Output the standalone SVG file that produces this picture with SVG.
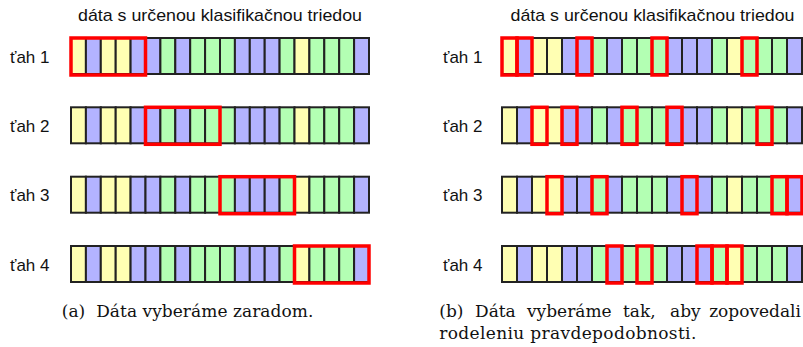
<svg xmlns="http://www.w3.org/2000/svg" xmlns:xlink="http://www.w3.org/1999/xlink" width="803" height="347" viewBox="0 0 803 347">
<style>
.y{fill:#FFFFB3}
.b{fill:#B3B3FF}
.g{fill:#B3FFB3}
.c rect{stroke:#222;stroke-width:2}
.sel{fill:none;stroke:#FF0000;stroke-width:3.5}
.lbl{font-family:"Liberation Sans",Arial,sans-serif;font-size:17px;fill:#111}
.ttl{font-family:"Liberation Sans",Arial,sans-serif;font-size:17px;fill:#111}
.cap{font-family:"DejaVu Serif","Liberation Serif",serif;font-size:17px;fill:#111}
</style>
<defs>
<g id="barL" class="c">
<rect class="y" x="71" y="0" width="14.9" height="36"/>
<rect class="b" x="85.9" y="0" width="14.9" height="36"/>
<rect class="y" x="100.8" y="0" width="14.9" height="36"/>
<rect class="y" x="115.7" y="0" width="14.9" height="36"/>
<rect class="b" x="130.6" y="0" width="14.9" height="36"/>
<rect class="b" x="145.5" y="0" width="14.9" height="36"/>
<rect class="g" x="160.4" y="0" width="14.9" height="36"/>
<rect class="b" x="175.3" y="0" width="14.9" height="36"/>
<rect class="g" x="190.2" y="0" width="14.9" height="36"/>
<rect class="g" x="205.1" y="0" width="14.9" height="36"/>
<rect class="g" x="220" y="0" width="14.9" height="36"/>
<rect class="b" x="234.9" y="0" width="14.9" height="36"/>
<rect class="b" x="249.8" y="0" width="14.9" height="36"/>
<rect class="b" x="264.7" y="0" width="14.9" height="36"/>
<rect class="g" x="279.6" y="0" width="14.9" height="36"/>
<rect class="y" x="294.5" y="0" width="14.9" height="36"/>
<rect class="g" x="309.4" y="0" width="14.9" height="36"/>
<rect class="g" x="324.3" y="0" width="14.9" height="36"/>
<rect class="g" x="339.2" y="0" width="14.9" height="36"/>
<rect class="b" x="354.1" y="0" width="14.9" height="36"/>
</g>
<g id="barR" class="c">
<rect class="y" x="502" y="0" width="15" height="36"/>
<rect class="b" x="517" y="0" width="15" height="36"/>
<rect class="y" x="532" y="0" width="15" height="36"/>
<rect class="y" x="547" y="0" width="15" height="36"/>
<rect class="b" x="562" y="0" width="15" height="36"/>
<rect class="b" x="577" y="0" width="15" height="36"/>
<rect class="g" x="592" y="0" width="15" height="36"/>
<rect class="b" x="607" y="0" width="15" height="36"/>
<rect class="g" x="622" y="0" width="15" height="36"/>
<rect class="g" x="637" y="0" width="15" height="36"/>
<rect class="g" x="652" y="0" width="15" height="36"/>
<rect class="b" x="667" y="0" width="15" height="36"/>
<rect class="b" x="682" y="0" width="15" height="36"/>
<rect class="b" x="697" y="0" width="15" height="36"/>
<rect class="g" x="712" y="0" width="15" height="36"/>
<rect class="y" x="727" y="0" width="15" height="36"/>
<rect class="g" x="742" y="0" width="15" height="36"/>
<rect class="g" x="757" y="0" width="15" height="36"/>
<rect class="g" x="772" y="0" width="15" height="36"/>
<rect class="b" x="787" y="0" width="15" height="36"/>
</g>
</defs>
<rect width="803" height="347" fill="#FFFFFF"/>

<g id="panel-a">
<text class="ttl" x="78" y="20.5" textLength="284" lengthAdjust="spacingAndGlyphs">dáta s určenou klasifikačnou triedou</text>
<g id="a-row1">
<text class="lbl" x="10" y="62.5">ťah 1</text>
<use xlink:href="#barL" transform="translate(0,38)"/>
<rect class="sel" x="71" y="38" width="74.5" height="37"/>
</g>
<g id="a-row2">
<text class="lbl" x="10" y="131.8">ťah 2</text>
<use xlink:href="#barL" transform="translate(0,107.3)"/>
<rect class="sel" x="145.5" y="107.3" width="74.5" height="37"/>
</g>
<g id="a-row3">
<text class="lbl" x="10" y="201.2">ťah 3</text>
<use xlink:href="#barL" transform="translate(0,176.7)"/>
<rect class="sel" x="220" y="176.7" width="74.5" height="37"/>
</g>
<g id="a-row4">
<text class="lbl" x="10" y="270.5">ťah 4</text>
<use xlink:href="#barL" transform="translate(0,246)"/>
<rect class="sel" x="294.5" y="246" width="74.5" height="37"/>
</g>
<text class="cap" x="61.7" y="317" textLength="251.6" lengthAdjust="spacing" xml:space="preserve">(a)  Dáta vyberáme zaradom.</text>
</g>

<g id="panel-b">
<text class="ttl" x="510.5" y="20.5" textLength="284" lengthAdjust="spacingAndGlyphs">dáta s určenou klasifikačnou triedou</text>
<g id="b-row1">
<text class="lbl" x="443" y="62.5">ťah 1</text>
<use xlink:href="#barR" transform="translate(0,38)"/>
<rect class="sel" x="502" y="38" width="15" height="37"/>
<rect class="sel" x="517" y="38" width="15" height="37"/>
<rect class="sel" x="577" y="38" width="15" height="37"/>
<rect class="sel" x="652" y="38" width="15" height="37"/>
<rect class="sel" x="742" y="38" width="15" height="37"/>
</g>
<g id="b-row2">
<text class="lbl" x="443" y="131.8">ťah 2</text>
<use xlink:href="#barR" transform="translate(0,107.3)"/>
<rect class="sel" x="532" y="107.3" width="15" height="37"/>
<rect class="sel" x="562" y="107.3" width="15" height="37"/>
<rect class="sel" x="622" y="107.3" width="15" height="37"/>
<rect class="sel" x="667" y="107.3" width="15" height="37"/>
<rect class="sel" x="757" y="107.3" width="15" height="37"/>
</g>
<g id="b-row3">
<text class="lbl" x="443" y="201.2">ťah 3</text>
<use xlink:href="#barR" transform="translate(0,176.7)"/>
<rect class="sel" x="547" y="176.7" width="15" height="37"/>
<rect class="sel" x="592" y="176.7" width="15" height="37"/>
<rect class="sel" x="682" y="176.7" width="15" height="37"/>
<rect class="sel" x="772" y="176.7" width="15" height="37"/>
<rect class="sel" x="787" y="176.7" width="15" height="37"/>
</g>
<g id="b-row4">
<text class="lbl" x="443" y="270.5">ťah 4</text>
<use xlink:href="#barR" transform="translate(0,246)"/>
<rect class="sel" x="607" y="246" width="15" height="37"/>
<rect class="sel" x="637" y="246" width="15" height="37"/>
<rect class="sel" x="697" y="246" width="15" height="37"/>
<rect class="sel" x="712" y="246" width="15" height="37"/>
<rect class="sel" x="727" y="246" width="15" height="37"/>
</g>
<g id="caption-b" class="cap">
<text x="439.3" y="317">(b)</text>
<text x="475" y="317">Dáta</text>
<text x="527" y="317">vyberáme</text>
<text x="623" y="317">tak,</text>
<text x="670" y="317">aby</text>
<text x="801" y="317" text-anchor="end">zopovedali</text>
<text x="439.3" y="338.5" textLength="257" lengthAdjust="spacing">rodeleniu pravdepodobnosti.</text>
</g>
</g>

<g id="connectors"/>
</svg>
